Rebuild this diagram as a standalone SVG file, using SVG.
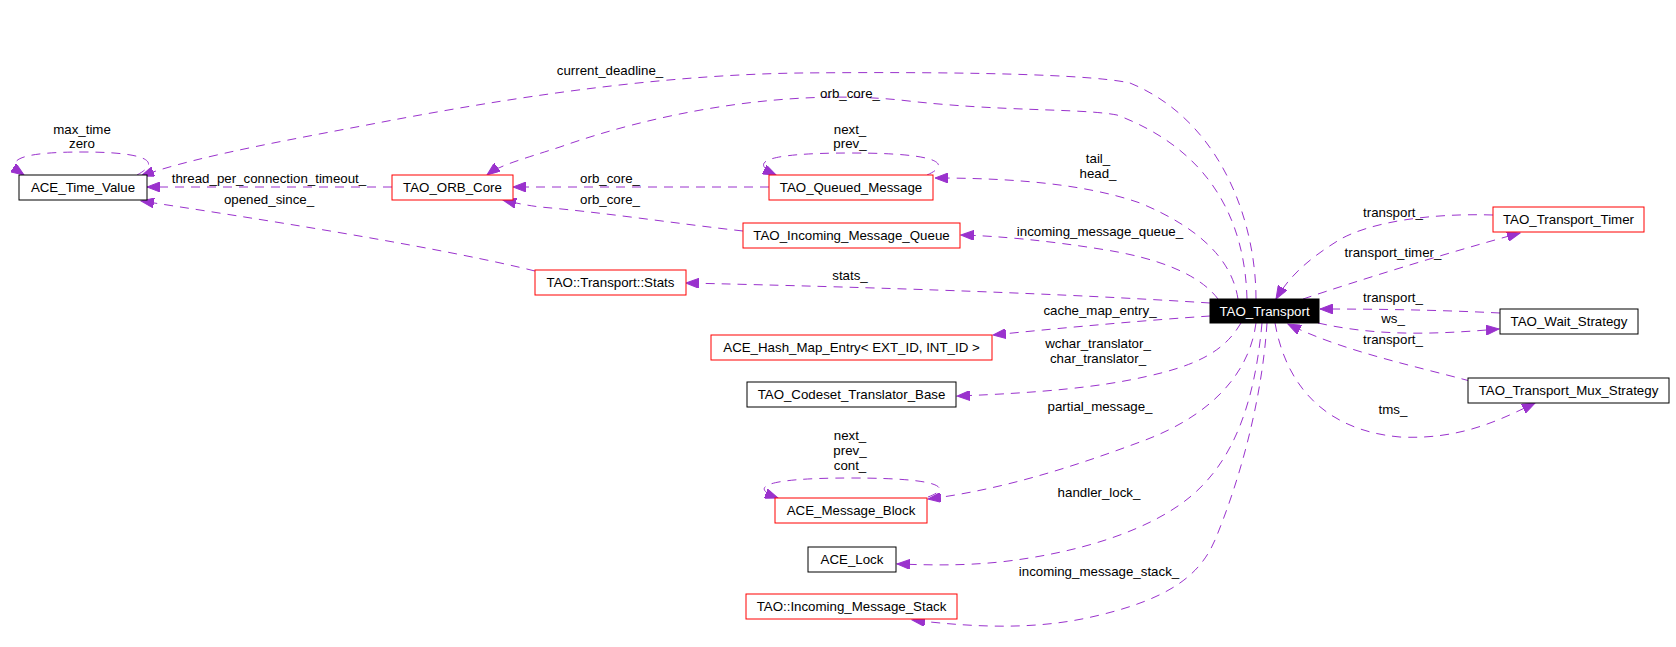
<svg xmlns="http://www.w3.org/2000/svg" width="1676" height="647" viewBox="0 0 1676 647">
<style>
text{font-family:"Liberation Sans",Arial,Helvetica,sans-serif;font-size:13.3px;fill:#000;text-anchor:middle}
.b{fill:#fff;stroke:#000;stroke-width:1}
.r{fill:#fff;stroke:#ff0000;stroke-width:1}
.k{fill:#000;stroke:#000;stroke-width:1}
.w{fill:#fff}
.e{fill:none;stroke:#9a32cd;stroke-width:1;stroke-dasharray:9,7;marker-end:url(#a)}
</style>
<defs>
<marker id="a" markerUnits="userSpaceOnUse" markerWidth="14" markerHeight="10" refX="13" refY="5" orient="auto">
<path d="M0,0 L13,5 L0,10 z" fill="#9a32cd" stroke="#9a32cd" stroke-width="1"/>
</marker>
</defs>
<rect width="1676" height="647" fill="#fff"/>
<g id="connectors">
<path class="e" d="M137,175 C165,160 140,152 83,152 C20,152 2,160 24,175"/>
<path class="e" d="M1256,299 C1256,220 1220,120 1130,83 C1080,72 900,72 800,73 C650,75 500,100 393,120 C300,138 200,155 141,176"/>
<path class="e" d="M1247,299 C1245,220 1210,150 1117,115 C1080,108 1000,112 900,100 C780,88 650,115 560,147 C520,160 500,165 487,175"/>
<path class="e" d="M927,175 C950,165 945,153 851,153 C760,153 750,163 776,175"/>
<path class="e" d="M1238,299 C1232,260 1200,228 1140,203 C1080,182 1000,178 935,178"/>
<path class="e" d="M769,187 L513,187"/>
<path class="e" d="M743,231 C680,224 600,212 540,207 C525,205 515,203 503,200"/>
<path class="e" d="M392,187 L147,187"/>
<path class="e" d="M535,271 C450,250 300,225 141,201"/>
<path class="e" d="M1218,299 C1200,275 1160,258 1100,249 C1050,241 1000,236 961,235"/>
<path class="e" d="M1210,303 C1100,296 950,289 686,283"/>
<path class="e" d="M1210,316 C1150,320 1070,327 993,335"/>
<path class="e" d="M1241,323 C1225,350 1200,365 1144,377 C1100,387 1040,393 957,396"/>
<path class="e" d="M1256,323 C1250,370 1215,415 1140,442 C1070,468 1000,490 928,499"/>
<path class="e" d="M928,497 C950,489 948,478 851,478 C760,478 750,488 778,498"/>
<path class="e" d="M1262,323 C1255,400 1235,460 1190,497 C1150,530 1080,553 1000,562 C960,566 930,565 897,564"/>
<path class="e" d="M1267,323 C1262,400 1240,480 1215,540 C1200,575 1170,598 1100,615 C1040,630 980,628 912,620"/>
<path class="e" d="M1493,215 C1430,213 1370,222 1339,240 C1310,258 1290,275 1276,299"/>
<path class="e" d="M1303,299 C1360,280 1440,255 1520,233"/>
<path class="e" d="M1500,313 C1440,310 1380,309 1320,309"/>
<path class="e" d="M1318,323 C1380,337 1440,334 1499,329"/>
<path class="e" d="M1470,381 C1410,365 1340,350 1288,324"/>
<path class="e" d="M1275,323 C1285,380 1320,430 1400,437 C1460,440 1500,420 1535,403"/>
<g id="edge-labels">
<text x="82" y="134">max_time</text>
<text x="82" y="148">zero</text>
<text x="610" y="75">current_deadline_</text>
<text x="850" y="98">orb_core_</text>
<text x="850" y="134">next_</text>
<text x="850" y="148">prev_</text>
<text x="269" y="183">thread_per_connection_timeout_</text>
<text x="269" y="204">opened_since_</text>
<text x="610" y="183">orb_core_</text>
<text x="610" y="204">orb_core_</text>
<text x="1098" y="163">tail_</text>
<text x="1098" y="178">head_</text>
<text x="1100" y="236">incoming_message_queue_</text>
<text x="850" y="280">stats_</text>
<text x="1100" y="315">cache_map_entry_</text>
<text x="1098" y="348">wchar_translator_</text>
<text x="1098" y="363">char_translator_</text>
<text x="1100" y="411">partial_message_</text>
<text x="850" y="440">next_</text>
<text x="850" y="455">prev_</text>
<text x="850" y="470">cont_</text>
<text x="1099" y="497">handler_lock_</text>
<text x="1099" y="576">incoming_message_stack_</text>
<text x="1393" y="217">transport_</text>
<text x="1393" y="257">transport_timer_</text>
<text x="1393" y="302">transport_</text>
<text x="1393" y="323">ws_</text>
<text x="1393" y="344">transport_</text>
<text x="1393" y="414">tms_</text>
</g>
</g>
<g id="ACE_Time_Value"><rect class="b" x="19" y="175" width="128" height="25"/><text x="83" y="192">ACE_Time_Value</text></g>
<g id="TAO_ORB_Core"><rect class="r" x="392" y="175" width="121" height="25"/><text x="452.5" y="192">TAO_ORB_Core</text></g>
<g id="TAO_Queued_Message"><rect class="r" x="769" y="175" width="164" height="25"/><text x="851" y="192">TAO_Queued_Message</text></g>
<g id="TAO_Incoming_Message_Queue"><rect class="r" x="743" y="223" width="217" height="25"/><text x="851.5" y="240">TAO_Incoming_Message_Queue</text></g>
<g id="TAO_Transport_Stats"><rect class="r" x="535" y="270" width="151" height="25"/><text x="610.5" y="287">TAO::Transport::Stats</text></g>
<g id="ACE_Hash_Map_Entry"><rect class="r" x="711" y="335" width="281" height="25"/><text x="851.5" y="352">ACE_Hash_Map_Entry&lt; EXT_ID, INT_ID &gt;</text></g>
<g id="TAO_Codeset_Translator_Base"><rect class="b" x="747" y="382" width="209" height="25"/><text x="851.5" y="399">TAO_Codeset_Translator_Base</text></g>
<g id="ACE_Message_Block"><rect class="r" x="775" y="498" width="152" height="25"/><text x="851" y="515">ACE_Message_Block</text></g>
<g id="ACE_Lock"><rect class="b" x="808" y="547" width="88" height="25"/><text x="852" y="564">ACE_Lock</text></g>
<g id="TAO_Incoming_Message_Stack"><rect class="r" x="746" y="594" width="211" height="25"/><text x="851.5" y="611">TAO::Incoming_Message_Stack</text></g>
<g id="TAO_Transport"><rect class="k" x="1210" y="299" width="109" height="24"/><text class="w" x="1264.5" y="315.5">TAO_Transport</text></g>
<g id="TAO_Transport_Timer"><rect class="r" x="1493" y="207" width="151" height="25"/><text x="1568.5" y="224">TAO_Transport_Timer</text></g>
<g id="TAO_Wait_Strategy"><rect class="b" x="1500" y="309" width="138" height="25"/><text x="1569" y="326">TAO_Wait_Strategy</text></g>
<g id="TAO_Transport_Mux_Strategy"><rect class="b" x="1468" y="378" width="201" height="25"/><text x="1568.5" y="395">TAO_Transport_Mux_Strategy</text></g>
</svg>
